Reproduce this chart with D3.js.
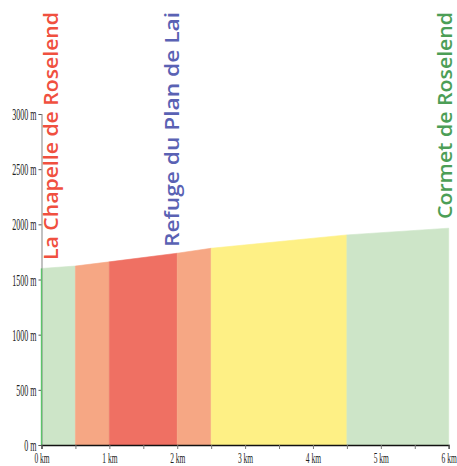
<!DOCTYPE html>
<html>
<head>
<meta charset="utf-8">
<script src="https://cdn.jsdelivr.net/npm/d3@7"></script>
<style>
  html, body { margin: 0; padding: 0; background: #fff; }
  svg { display: block; }
</style>
</head>
<body>
<svg id="chart" width="457" height="466"></svg>
<script>
// ---- data ----
const distancesKm = [0, 0.5, 1, 2, 2.5, 4.5, 6];
const elevationsM = [1600, 1622, 1660, 1738, 1783, 1904, 1965];
const segmentGrade = ["easy", "medium", "hard", "medium", "moderate", "easy"];
const yTicks = [0, 500, 1000, 1500, 2000, 2500, 3000];
const xTicks = [0, 0.5, 1, 1.5, 2, 2.5, 3, 3.5, 4, 4.5, 5, 5.5, 6];
const placeNames = ["La Chapelle de Roselend", "Refuge du Plan de Lai", "Cormet de Roselend"];
const placeKm = [0, 2, 6];

// ---- styles ----
const gradeColor = d3.scaleOrdinal()
  .domain(["easy", "moderate", "medium", "hard"])
  .range(["#cde5c8", "#fef085", "#f6a784", "#ef7063"]);
const placeColors = ["#f0503f", "#5a62b4", "#4c9e56"];
const placeLengths = [248, 235, 207];
const placeDx = [16, 2, 3];

const svg = d3.select("#chart");
const x = d3.scaleLinear().domain([0, 6]).range([41.5, 448.7]);
const y = d3.scaleLinear().domain([0, 3000]).range([445, 114]);

// areas
const area = d3.area().x(d => x(d[0])).y0(y(0)).y1(d => y(d[1]));
segmentGrade.forEach((g, i) => {
  const pts = [[distancesKm[i], elevationsM[i]], [distancesKm[i + 1], elevationsM[i + 1]]];
  svg.append("path")
    .attr("d", area(pts))
    .attr("fill", gradeColor(g))
    .attr("stroke", gradeColor(g))
    .attr("stroke-width", 0.6);
});

// y axis
const yAxis = d3.axisLeft(y).tickValues(yTicks).tickSize(3).tickFormat(d => d + " m");
const gy = svg.append("g").attr("transform", `translate(${x(0)},0)`).call(yAxis);
gy.select(".domain").attr("stroke", "#999").attr("stroke-width", 1.2);
gy.selectAll(".tick line").attr("stroke", "#555");
gy.selectAll(".tick text")
  .attr("x", null).attr("dy", null)
  .attr("dominant-baseline", "central")
  .attr("transform", "translate(-5,0.5) scale(0.5,1)")
  .attr("font-family", "Liberation Serif, serif")
  .attr("font-size", 16)
  .attr("fill", "#222");

// left edge green line
svg.append("line")
  .attr("x1", x(0)).attr("x2", x(0))
  .attr("y1", y(0)).attr("y2", y(elevationsM[0]))
  .attr("stroke", "#5cc46a").attr("stroke-width", 1.4);

// x axis
const xAxis = d3.axisBottom(x).tickValues(xTicks).tickSize(4)
  .tickFormat(d => Number.isInteger(d) ? d + " km" : "");
const gx = svg.append("g").attr("transform", `translate(0,${y(0)})`).call(xAxis);
gx.select(".domain").attr("stroke", "#111").attr("stroke-width", 1.3);
gx.selectAll(".tick line").attr("stroke", "#777");
gx.selectAll(".tick text")
  .attr("y", null).attr("dy", null)
  .attr("transform", "translate(0,17.5) scale(0.5,1)")
  .attr("font-family", "Liberation Serif, serif")
  .attr("font-size", 15)
  .attr("fill", "#222");

// place names
placeNames.forEach((name, i) => {
  const px = x(placeKm[i]) + placeDx[i];
  svg.append("text")
    .attr("transform", `translate(${px},12) rotate(-90)`)
    .attr("text-anchor", "end")
    .attr("font-family", "'Open Sans', 'Noto Sans', sans-serif")
    .attr("font-weight", 600)
    .attr("font-size", 19)
    .attr("textLength", placeLengths[i])
    .attr("lengthAdjust", "spacingAndGlyphs")
    .attr("fill", placeColors[i])
    .text(name);
});
</script>
</body>
</html>
